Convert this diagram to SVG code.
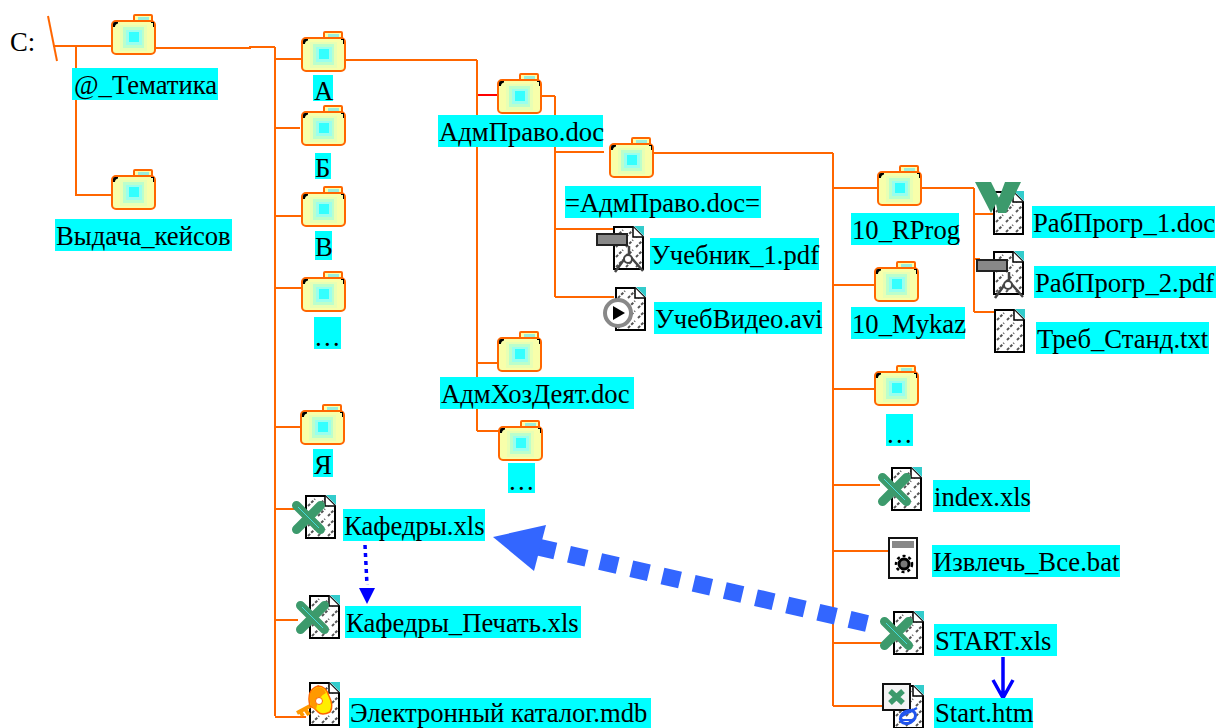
<svg xmlns="http://www.w3.org/2000/svg" xmlns:xlink="http://www.w3.org/1999/xlink" width="1217" height="728" viewBox="0 0 1217 728">
<style>
.l{fill:none;stroke:#ff6600;stroke-width:2}
.t{font-family:"Liberation Serif",serif;font-size:26.67px;fill:#000}
.b{fill:#00ffff}
</style>
<defs>
<pattern id="hatch" width="10" height="10" patternUnits="userSpaceOnUse" patternTransform="translate(2 2)">
<path d="M1 9L8 2" stroke="#555" stroke-width="2" stroke-dasharray="3 1.500" fill="none"/>
</pattern>
<symbol id="folder" overflow="visible">
<rect x="23" y="1" width="18" height="8" rx="1" fill="#ffffaa" stroke="#ff6600" stroke-width="2"/>
<rect x="27" y="3" width="11" height="4" fill="#99eedd"/>
<rect x="1" y="7" width="43" height="33" rx="4" fill="#f8ffaa" stroke="#ff6600" stroke-width="2"/>
<rect x="9" y="11" width="27" height="26" fill="#e8ffb4"/>
<rect x="12" y="13" width="21" height="21" fill="#bbffcc"/>
<rect x="15" y="16" width="16" height="15" fill="#99ffee"/>
<rect x="18" y="18" width="10" height="10" fill="#33ffff"/>
<path d="M2 13V10Q2 8 4 8H7V9.500Q4 10 4 13Z" fill="#000"/>
<path d="M43 9V13H42V9H40V8H43Z" fill="#000"/>
</symbol>
<symbol id="file" overflow="visible">
<path d="M21 0H31V10Z" fill="#33cccc"/>
<path d="M1 1H20L30 11V43H1Z" fill="#fff" stroke="#000" stroke-width="2"/>
<path d="M2 2H20L29 12V42H2Z" fill="url(#hatch)"/>
<path d="M20 1V11H30" fill="#fff" stroke="#000" stroke-width="1.500"/>
</symbol>
<symbol id="xl" overflow="visible">
<path d="M3.500 3.500L27.500 27.500M27.500 3.500L3.500 27.500" stroke="#3c9a6c" stroke-width="9" stroke-linecap="round" fill="none"/>
<path d="M5 5L26 26" stroke="#44dddd" stroke-width="1"/>
</symbol>
<symbol id="pdf" overflow="visible">
<rect x="1" y="1" width="30" height="11" fill="#888" stroke="#222" stroke-width="2"/>
<path d="M32 21L19 39M32 21L47 38M33 13V21" stroke="#444" stroke-width="2.500" fill="none"/>
<circle cx="32" cy="26" r="4" fill="#fff" stroke="#444" stroke-width="2"/>
</symbol>
</defs>
<g id="connectors">
<path class="l" d="M48 16L57 61"/>
<path class="l" d="M53 46H112M76 46V195H112"/>
<path class="l" d="M156 48H250V47H275M275 47V716M275 59H302M274 128H300M275 216H302M275 288H302M275 427H301M275 509H295M276 620H298M275 717H306"/>
<path class="l" d="M346 60H477M477 60V431M477 363H498M477 431H499"/>
<path d="M478 95H498" fill="none" stroke="#ff0000" stroke-width="2"/>
<path class="l" d="M542 96H555M555 96V297M556 152H604M555 229H614M555 297H614"/>
<path class="l" d="M654 153H833M833 153V706M833 188H878M833 285H875M833 389H875M833 485H880M833 551H890M833 643H884M833 706H884"/>
<path class="l" d="M922 188H974M974 188V312M974 214H996M974 259H980M974 312H996"/>
</g>
<g id="arrows">
<path d="M537.800 547L868 623.700" stroke="#3366ff" stroke-width="17" stroke-dasharray="18 14" fill="none"/>
<path d="M493 537L546 525L534 571Z" fill="#3366ff"/>
<path d="M365 545L367 585" stroke="#0000ff" stroke-width="3.500" stroke-dasharray="4 4" fill="none"/>
<path d="M359 588H375L367 604Z" fill="#0000ff"/>
<path d="M1003 657V698M993 680L1003 698L1013 680" stroke="#0000ff" stroke-width="3.500" fill="none"/>
</g>
<g id="root"><text class="t" x="10" y="51">C:</text></g>
<g id="n-tematika"><use xlink:href="#folder" x="111" y="14" width="46" height="42"/><rect class="b" x="72" y="68" width="146" height="32"/><text class="t" x="74" y="94">@_Тематика</text></g>
<g id="n-vydacha"><use xlink:href="#folder" x="111" y="169" width="46" height="42"/><rect class="b" x="55" y="219" width="177" height="32"/><text class="t" x="56" y="245">Выдача_кейсов</text></g>
<g id="n-a"><use xlink:href="#folder" x="301" y="31" width="46" height="42"/><rect class="b" x="313" y="75" width="20" height="26"/><text class="t" x="314" y="100">А</text></g>
<g id="n-b"><use xlink:href="#folder" x="301" y="105" width="46" height="42"/><rect class="b" x="315" y="153" width="16" height="26"/><text class="t" x="315" y="177">Б</text></g>
<g id="n-v"><use xlink:href="#folder" x="301" y="186" width="46" height="42"/><rect class="b" x="315" y="231" width="17" height="29"/><text class="t" x="315" y="256">В</text></g>
<g id="n-dots1"><use xlink:href="#folder" x="301" y="271" width="46" height="42"/><rect class="b" x="314" y="317" width="27" height="32"/><text class="t" x="314" y="346">…</text></g>
<g id="n-ya"><use xlink:href="#folder" x="300" y="404" width="46" height="42"/><rect class="b" x="313" y="449" width="20" height="28"/><text class="t" x="314" y="474">Я</text></g>
<g id="n-kaf"><use xlink:href="#file" x="305" y="495"/><use xlink:href="#xl" x="293" y="502"/><rect class="b" x="343" y="509" width="142" height="32"/><text class="t" x="344" y="535">Кафедры.xls</text></g>
<g id="n-kafp"><use xlink:href="#file" x="309" y="595"/><use xlink:href="#xl" x="297" y="602"/><rect class="b" x="345" y="606" width="236" height="32"/><text class="t" x="346" y="632">Кафедры_Печать.xls</text></g>
<g id="n-cat"><use xlink:href="#file" x="309" y="682"/>
<path d="M297 713L312 705M305 709L309 715M300 711L303 716" stroke="#ff9900" stroke-width="4" fill="none"/><path d="M310 706Q306 690 318 686Q326 686 329 696Q334 706 330 712Q322 716 318 712L314 708Z" fill="#ffee00" stroke="#ff6600" stroke-width="1.500"/><path d="M311 706Q306 691 318 687Q324 687 326 693Q318 696 316 710Z" fill="#ff9900"/><circle cx="319" cy="701" r="3.500" fill="#fff" stroke="#ff6600"/>
<rect class="b" x="349" y="698" width="302" height="30"/><text class="t" x="350" y="722">Электронный каталог.mdb</text></g>
<g id="n-admpravo"><use xlink:href="#folder" x="497" y="73" width="46" height="42"/><rect class="b" x="438" y="115" width="165" height="32"/><text class="t" x="439" y="141">АдмПраво.doc</text></g>
<g id="n-admpravo2"><use xlink:href="#folder" x="609" y="137" width="46" height="42"/><rect class="b" x="565" y="186" width="196" height="32"/><text class="t" x="565" y="212">=АдмПраво.doc=</text></g>
<g id="n-uch"><use xlink:href="#file" x="613" y="226"/><use xlink:href="#pdf" x="596" y="233"/><rect class="b" x="650" y="238" width="169" height="32"/><text class="t" x="651" y="264">Учебник_1.pdf</text></g>
<g id="n-video"><use xlink:href="#file" x="615" y="287"/><circle cx="618" cy="313" r="13" fill="#fff" stroke="#888" stroke-width="4"/><path d="M613 306L625 313L613 320Z" fill="#000"/><rect class="b" x="654" y="302" width="168" height="32"/><text class="t" x="655" y="328">УчебВидео.avi</text></g>
<g id="n-admhoz"><use xlink:href="#folder" x="497" y="331" width="46" height="42"/><rect class="b" x="440" y="377" width="194" height="32"/><text class="t" x="441" y="403">АдмХозДеят.doc</text></g>
<g id="n-dots2"><use xlink:href="#folder" x="498" y="420" width="46" height="42"/><rect class="b" x="508" y="463" width="27" height="30"/><text class="t" x="508" y="490">…</text></g>
<g id="n-10r"><use xlink:href="#folder" x="877" y="165" width="46" height="42"/><rect class="b" x="851" y="213" width="108" height="32"/><text class="t" x="852" y="239">10_RProg</text></g>
<g id="n-10m"><use xlink:href="#folder" x="874" y="261" width="46" height="42"/><rect class="b" x="851" y="307" width="114" height="32"/><text class="t" x="852" y="333">10_Mykaz</text></g>
<g id="n-dots3"><use xlink:href="#folder" x="874" y="365" width="46" height="42"/><rect class="b" x="886" y="414" width="27" height="32"/><text class="t" x="886" y="443">…</text></g>
<g id="n-rp1"><use xlink:href="#file" x="993" y="191"/><path d="M975 182H991L999 198L1005 182H1021L1006 213H998L996 204L991 213Z" fill="#3c9a6c"/><rect class="b" x="1032" y="206" width="183" height="32"/><text class="t" x="1033" y="232">РабПрогр_1.doc</text></g>
<g id="n-rp2"><use xlink:href="#file" x="993" y="251"/><use xlink:href="#pdf" x="976" y="259"/><rect class="b" x="1034" y="266" width="182" height="32"/><text class="t" x="1035" y="292">РабПрогр_2.pdf</text></g>
<g id="n-treb"><use xlink:href="#file" x="994" y="309"/><rect class="b" x="1036" y="322" width="173" height="32"/><text class="t" x="1037" y="348">Треб_Станд.txt</text></g>
<g id="n-index"><use xlink:href="#file" x="891" y="467"/><use xlink:href="#xl" x="879" y="474"/><rect class="b" x="933" y="480" width="97" height="32"/><text class="t" x="934" y="506">index.xls</text></g>
<g id="n-bat"><rect x="889" y="538" width="28" height="40" fill="#fff" stroke="#111" stroke-width="2"/><rect x="892" y="541" width="22" height="7" fill="#888"/><circle cx="904" cy="564" r="5" fill="#777" stroke="#000" stroke-width="3"/><circle cx="904" cy="564" r="8" fill="none" stroke="#000" stroke-width="2.500" stroke-dasharray="3 3"/><rect class="b" x="932" y="545" width="188" height="32"/><text class="t" x="933" y="571">Извлечь_Все.bat</text></g>
<g id="n-start"><use xlink:href="#file" x="893" y="611"/><use xlink:href="#xl" x="881" y="618"/><rect class="b" x="934" y="624" width="123" height="32"/><text class="t" x="935" y="650">START.xls</text></g>
<g id="n-starthtm"><use xlink:href="#file" x="893" y="685"/><rect x="883" y="684" width="27" height="26" fill="#f4f4f4" stroke="#111" stroke-width="2"/><path d="M890 691L903 703M903 691L890 703" stroke="#3c9a6c" stroke-width="5.500"/><ellipse cx="908" cy="717" rx="8" ry="6" fill="none" stroke="#2255ee" stroke-width="3" transform="rotate(-30 908 717)"/><path d="M900 717L917 708" stroke="#2255ee" stroke-width="2.500"/><path d="M901 720H915" stroke="#2255ee" stroke-width="2"/><rect class="b" x="934" y="698" width="99" height="30"/><text class="t" x="935" y="722">Start.htm</text></g>
</svg>
